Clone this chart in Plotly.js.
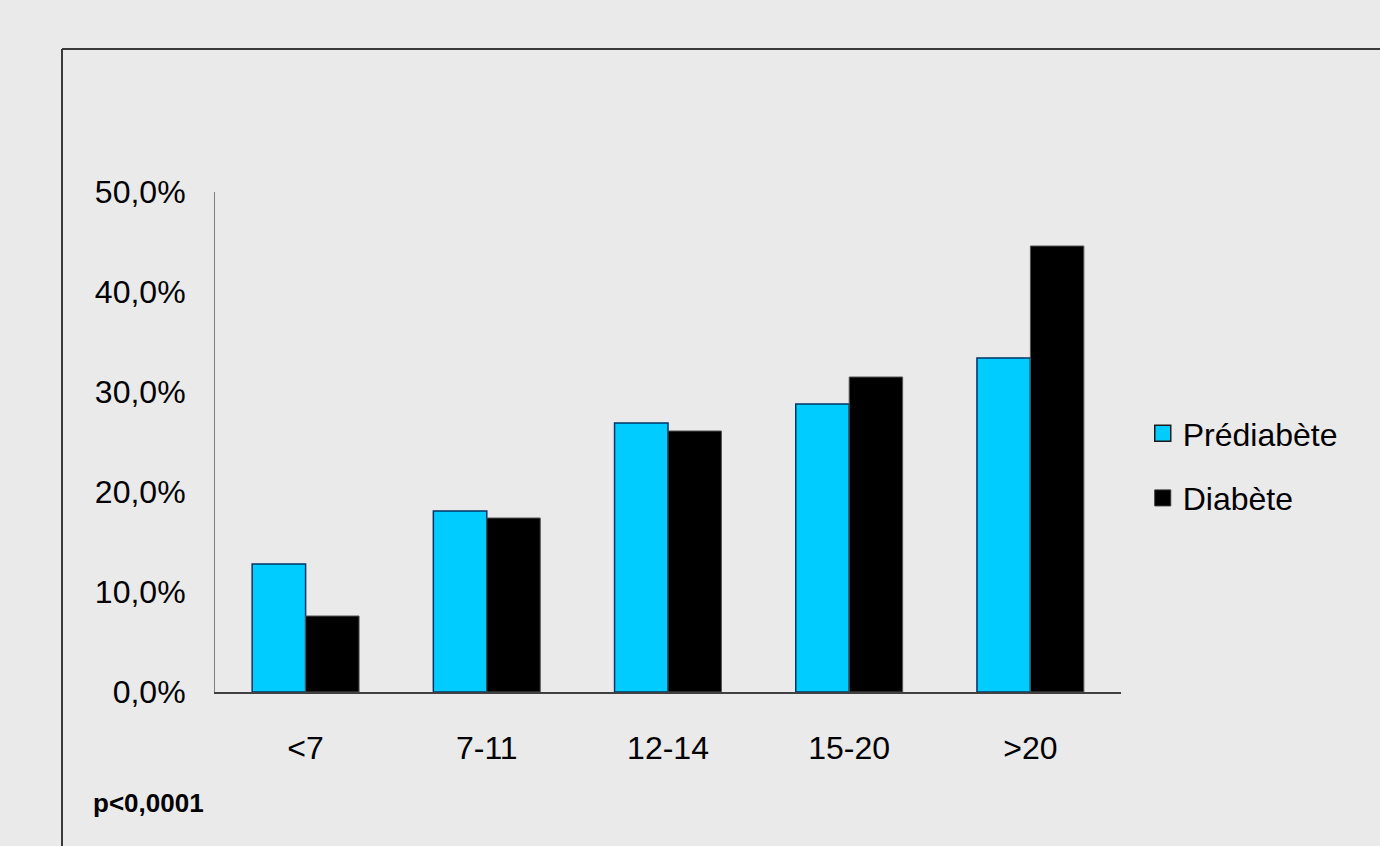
<!DOCTYPE html>
<html>
<head>
<meta charset="utf-8">
<script src="https://cdn.plot.ly/plotly-3.0.1.min.js"></script>
<style>
html,body{margin:0;padding:0;background:#eaeaea;}
#chart{width:1380px;height:846px;}
</style>
</head>
<body>
<div id="chart"></div>
<script>
var categories = ['<7', '7-11', '12-14', '15-20', '>20'];
var prediabete = [0.128, 0.181, 0.269, 0.288, 0.334];
var diabete = [0.076, 0.174, 0.261, 0.315, 0.446];
var seriesNames = ['Prédiabète', 'Diabète'];
var yTickVals = [0, 0.1, 0.2, 0.3, 0.4, 0.5];
var note = 'p<0,0001';

var FONT = 'Liberation Sans, Arial, sans-serif';
var FS = 32;

var colors = ['#00ccff', '#000000'];
var outlines = ['#003366', '#555555'];

var traces = [
  {
    type: 'bar', name: seriesNames[0], x: categories, y: prediabete,
    marker: {color: colors[0], line: {color: outlines[0], width: 1.5}},
    showlegend: false
  },
  {
    type: 'bar', name: seriesNames[1], x: categories, y: diabete,
    marker: {color: colors[1], line: {color: outlines[1], width: 1}},
    showlegend: false
  },
  {
    type: 'scatter', mode: 'markers', name: seriesNames[0], x: [null], y: [null],
    marker: {symbol: 'square', size: 20, color: colors[0], line: {color: '#1a1a1a', width: 1.5}},
    legendgroup: 'a'
  },
  {
    type: 'scatter', mode: 'markers', name: seriesNames[1], x: [null], y: [null],
    marker: {symbol: 'square', size: 20, color: colors[1], line: {color: '#333333', width: 1}},
    legendgroup: 'b'
  }
];

var layout = {
  width: 1380, height: 846,
  paper_bgcolor: '#eaeaea',
  plot_bgcolor: 'rgba(0,0,0,0)',
  separators: ',.',
  font: {family: FONT, size: FS, color: '#000'},
  margin: {l: 215, r: 259, t: 192, b: 154, pad: 0},
  barmode: 'group',
  bargap: 0.41,
  bargroupgap: 0,
  showlegend: true,
  legend: {
    x: 1.024, xanchor: 'left', y: 0.452, yanchor: 'middle',
    bgcolor: 'rgba(0,0,0,0)', font: {family: FONT, size: FS, color: '#000'},
    traceorder: 'grouped', tracegroupgap: 20, itemwidth: 30
  },
  xaxis: {
    type: 'category', showgrid: false, zeroline: false,
    showline: true, linecolor: '#404040', linewidth: 2,
    ticks: '', ticklabelstandoff: 27,
    tickfont: {family: FONT, size: FS, color: '#000'}
  },
  yaxis: {
    range: [0, 0.5], tickvals: yTickVals, tickformat: '.1%',
    showgrid: false, zeroline: false,
    showline: true, linecolor: '#808080', linewidth: 1,
    ticks: '', ticklabelstandoff: 22,
    tickfont: {family: FONT, size: FS, color: '#000'}
  },
  shapes: [
    {type: 'line', xref: 'paper', yref: 'paper', x0: (62 - 215) / 906, x1: 1.5, y0: (692 - 49) / 500, y1: (692 - 49) / 500, line: {color: '#3a3a3a', width: 2}},
    {type: 'line', xref: 'paper', yref: 'paper', x0: (62 - 215) / 906, x1: (62 - 215) / 906, y0: (692 - 49) / 500, y1: -0.5, line: {color: '#3a3a3a', width: 2}}
  ],
  annotations: [
    {text: '<b>' + note + '</b>', xref: 'paper', yref: 'paper', x: (91 - 215) / 906, y: (692 - 803) / 500,
     xanchor: 'left', yanchor: 'middle', showarrow: false, font: {family: FONT, size: 26, color: '#000'}}
  ]
};

Plotly.newPlot('chart', traces, layout, {displayModeBar: false, staticPlot: true});
</script>
</body>
</html>
